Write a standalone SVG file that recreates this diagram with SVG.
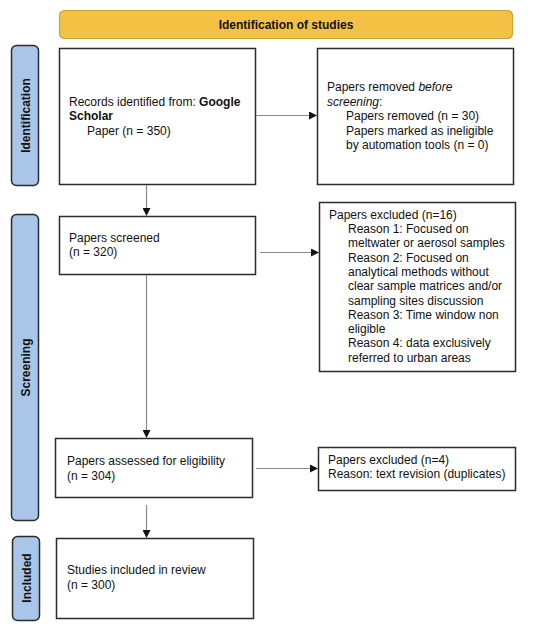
<svg xmlns="http://www.w3.org/2000/svg" width="550" height="630" viewBox="0 0 550 630">
<defs>
<marker id="ah" markerWidth="8" markerHeight="8" refX="7" refY="4" orient="auto" markerUnits="userSpaceOnUse">
<path d="M0,0 L8,4 L0,8 Z" fill="#111"/>
</marker>
<style>
.box{fill:#fff;stroke:#2b2b2b;stroke-width:1.5}
.side{fill:#a9c5e8;stroke:#2b2b2b;stroke-width:1.5}
.hdr{fill:#f3c244;stroke:#c9a13c;stroke-width:1.2}
.t{font-family:"Liberation Sans",Arial,sans-serif;font-size:12px;fill:#111}
.b{font-weight:bold}
.sl{font-family:"Liberation Sans",Arial,sans-serif;font-size:12px;font-weight:bold;fill:#111;text-anchor:middle}
.c{stroke:#8a8a8a;stroke-width:1.2;fill:none;marker-end:url(#ah)}
</style>
</defs>
<rect width="550" height="630" fill="#fff"/>

<g id="header">
<rect class="hdr" x="59.5" y="10.5" width="453" height="28" rx="5"/>
<text class="t b" x="286" y="28.5" text-anchor="middle">Identification of studies</text>
</g>

<g id="side-identification">
<rect class="side" x="11.5" y="45.5" width="27" height="140" rx="5"/>
<text class="sl" transform="translate(29.5,115.5) rotate(-90)">Identification</text>
</g>
<g id="side-screening">
<rect class="side" x="11.5" y="214.5" width="27" height="306" rx="5"/>
<text class="sl" transform="translate(29.5,367.5) rotate(-90)">Screening</text>
</g>
<g id="side-included">
<rect class="side" x="12.5" y="536.5" width="27" height="84" rx="5"/>
<text class="sl" transform="translate(30.5,578) rotate(-90)">Included</text>
</g>

<g id="records">
<rect class="box" x="59.5" y="48.5" width="196" height="136"/>
<text class="t" x="69" y="105.5">Records identified from: <tspan class="b">Google</tspan></text>
<text class="t b" x="69" y="120">Scholar</text>
<text class="t" x="87" y="134.5">Paper (n = 350)</text>
</g>

<g id="removed">
<rect class="box" x="317.5" y="48.5" width="196" height="136"/>
<text class="t" x="327" y="91">Papers removed <tspan font-style="italic">before</tspan></text>
<text class="t" x="327" y="105.5"><tspan font-style="italic">screening</tspan>:</text>
<text class="t" x="346" y="120">Papers removed (n = 30)</text>
<text class="t" x="346" y="134.5">Papers marked as ineligible</text>
<text class="t" x="346" y="149">by automation tools (n = 0)</text>
</g>

<g id="screened">
<rect class="box" x="59.5" y="216.5" width="196" height="58"/>
<text class="t" x="69" y="241.5">Papers screened</text>
<text class="t" x="69" y="256">(n = 320)</text>
</g>

<g id="excluded16">
<rect class="box" x="319.5" y="202.5" width="196" height="169"/>
<text class="t" x="329" y="218.5">Papers excluded (n=16)</text>
<text class="t" x="348" y="233">Reason 1: Focused on</text>
<text class="t" x="348" y="247.3">meltwater or aerosol samples</text>
<text class="t" x="348" y="261.6">Reason 2: Focused on</text>
<text class="t" x="348" y="275.9">analytical methods without</text>
<text class="t" x="348" y="290.2">clear sample matrices and/or</text>
<text class="t" x="348" y="304.5">sampling sites discussion</text>
<text class="t" x="348" y="318.8">Reason 3: Time window non</text>
<text class="t" x="348" y="333.1">eligible</text>
<text class="t" x="348" y="347.4">Reason 4: data exclusively</text>
<text class="t" x="348" y="361.7">referred to urban areas</text>
</g>

<g id="assessed">
<rect class="box" x="55.5" y="438.5" width="197" height="59"/>
<text class="t" x="67" y="465">Papers assessed for eligibility</text>
<text class="t" x="67" y="479.5">(n = 304)</text>
</g>

<g id="excluded4">
<rect class="box" x="318.5" y="447.5" width="197" height="43"/>
<text class="t" x="328" y="464">Papers excluded (n=4)</text>
<text class="t" x="328" y="478">Reason: text revision (duplicates)</text>
</g>

<g id="included">
<rect class="box" x="56.5" y="538.5" width="197" height="80"/>
<text class="t" x="67" y="574">Studies included in review</text>
<text class="t" x="67" y="588.5">(n = 300)</text>
</g>

<g id="connectors">
<line class="c" x1="256" y1="115.5" x2="316" y2="115.5"/>
<line class="c" x1="146.5" y1="185" x2="146.5" y2="215"/>
<line class="c" x1="260" y1="252.5" x2="318" y2="252.5"/>
<line class="c" x1="146.5" y1="275" x2="146.5" y2="437"/>
<line class="c" x1="256" y1="468.5" x2="317" y2="468.5"/>
<line class="c" x1="146.5" y1="505" x2="146.5" y2="537"/>
</g>
</svg>
